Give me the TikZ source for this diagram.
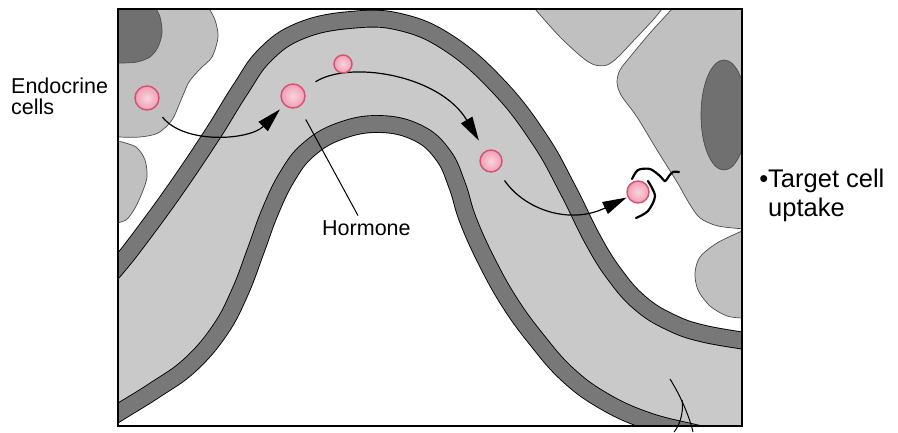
\documentclass[tikz,border=0pt]{standalone}
\usepackage{fontspec}
\setmainfont{Liberation Sans}
\usepackage{tikz}
\usetikzlibrary{arrows.meta}

\definecolor{lumengray}{RGB}{201,201,201}
\definecolor{cellgray}{RGB}{192,192,192}
\definecolor{wallgray}{RGB}{120,120,120}
\definecolor{nucgray}{RGB}{112,112,112}
\definecolor{hormlight}{RGB}{250,212,222}
\definecolor{hormfill}{RGB}{240,158,180}
\definecolor{hormrim}{RGB}{214,80,112}

\begin{document}
\begin{tikzpicture}[
  x=1bp, y=-1bp,
  cell/.style={fill=cellgray, draw=black!70, line width=0.7bp},
  nucleus/.style={fill=nucgray, draw=black!70, line width=0.7bp},
  wall/.style={draw=black, line width=0.9bp, double=wallgray, double distance=16bp},
  hormone/.style={circle, inner sep=0pt, draw=hormrim, line width=1.4bp,
                  inner color=hormlight, outer color=hormfill},
  route/.style={-{Triangle[length=24bp, width=13bp]}, line width=1.2bp},
  lbl/.style={font=\fontsize{21.5bp}{21bp}\selectfont, inner sep=0pt}
]
\useasboundingbox (0,0) rectangle (898,432);
\fill[white] (0,0) rectangle (898,432);

\begin{scope}
\clip (118,9) rectangle (742,426);

% cells outside the vessel
\path[cell] (100,-10) -- (205,-10) -- plot[smooth] coordinates {(207,5) (215,20) (218,37) (212,57)
  (200,69) (189,82) (181,100) (172,120) (158,133) (140,137) (118,137)} -- (100,138) -- cycle;
\path[nucleus] (100,-10) -- (150,-10) -- plot[smooth] coordinates {(153,3) (160,17) (162,33)
  (158,47) (150,57) (137,62) (123,63) (110,63)} -- (100,63) -- cycle;
\path[cell] (100,141) -- plot[smooth] coordinates {(118,141) (136,147) (145,160) (147,177)
  (142,193) (135,208) (126,220) (112,224)} -- (100,224) -- cycle;
\path[cell] (530,-10) -- plot[smooth] coordinates {(535,9) (560,37) (583,58) (595,65) (607,65)
  (618,57) (637,37) (653,20) (662,9)} -- (665,-10) -- cycle;
\path[cell] (675,-10) -- plot[smooth] coordinates {(672,9) (650,33) (630,57) (620,70) (617,82)
  (621,95) (637,117) (657,150) (677,182) (689,203) (700,218) (718,226) (745,229)}
  -- (760,229) -- (760,-10) -- cycle;
\path[nucleus] (724,115) ellipse [x radius=23bp, y radius=55bp];
\path[cell] (760,232) -- plot[smooth] coordinates {(742,231) (717,243) (700,257) (695,273)
  (698,290) (710,306) (727,316) (742,318)} -- (760,318) -- cycle;

% lumen between the two walls
\fill[lumengray] plot[smooth, tension=.7] coordinates {(95,292) (118,266) (140,238) (175,190)
  (212,135) (240,90) (265,55) (300,31) (350,20) (400,22) (450,44) (500,88) (540,140) (568,190)
  (593,240) (615,275) (640,303) (670,322) (705,334) (760,343)}
  -- (780,343) -- (780,460)
  -- plot[smooth, tension=.7] coordinates {(760,447) (695,433) (645,420) (602,400) (567,374)
  (537,340) (510,303) (487,262) (468,220) (457,185) (443,155) (418,133) (380,124) (340,131)
  (308,150) (287,177) (270,212) (256,250) (240,292) (220,330) (190,365) (155,390) (118,413)
  (95,428)} -- (80,428) -- (80,292) -- cycle;

% vessel walls
\draw[wall] plot[smooth, tension=.7] coordinates {(95,292) (118,266) (140,238) (175,190)
  (212,135) (240,90) (265,55) (300,31) (350,20) (400,22) (450,44) (500,88) (540,140) (568,190)
  (593,240) (615,275) (640,303) (670,322) (705,334) (760,343)};
\draw[wall] plot[smooth, tension=.7] coordinates {(95,428) (118,413) (155,390) (190,365)
  (220,330) (240,292) (256,250) (270,212) (287,177) (308,150) (340,131) (380,124) (418,133)
  (443,155) (457,185) (468,220) (487,262) (510,303) (537,340) (567,374) (602,400) (645,420)
  (695,433) (760,447)};
\end{scope}

% hormone particles
\node[hormone, minimum size=24bp] (p1) at (147,98) {};
\node[hormone, minimum size=24bp] (p2) at (293,96) {};
\node[hormone, minimum size=22bp] (p4) at (491,161) {};
\node[hormone, minimum size=22bp] (p5) at (638,192) {};

\draw[route, shorten <=12bp, shorten >=6bp] (p1) .. controls (185,145) and (250,140) .. (p2);
\draw[route, shorten <=14bp, shorten >=12bp] (p2) .. controls (350,60) and (440,75) .. (p4);
\draw[route, shorten <=12bp, shorten >=1bp] (p4) .. controls (525,210) and (570,225) .. (p5);

\node[hormone, minimum size=18bp] (p3) at (343,64) {};

% receptor hook at the target cell
\draw[line width=2.2bp, line cap=round] plot[smooth] coordinates {(648,181) (655,196) (648,211) (636,218)};
\draw[line width=2.2bp, line cap=round] plot[smooth] coordinates {(632,179) (638,170) (650,169)
  (660,176) (665,181) (669,176) (673,172) (679,172)};

\draw[line width=1.3bp] (118,9) rectangle (742,426);

% leaders running off the bottom edge
\coordinate (lead1) at (670,379);
\coordinate (lead1end) at (693,432);
\coordinate (lead2) at (682,400);
\coordinate (lead2end) at (674,432);
\draw[line width=1bp] (lead1) .. controls (680,395) and (689,415) .. (lead1end);
\draw[line width=1bp] (lead2) .. controls (684,414) and (679,426) .. (lead2end);

% labels
\node[lbl, anchor=north west, align=left] (endo) at (11,78) {Endocrine\\cells};
\node[lbl, anchor=base west] (hormtext) at (322,235) {Hormone};
\draw[line width=1bp, shorten <=14bp, shorten >=5bp] (p2) -- ([xshift=-6bp]hormtext.north);
\node[lbl, font=\fontsize{25.5bp}{29bp}\selectfont, anchor=north west, align=left]
  (target) at (768,169) {\llap{\textbullet}Target cell\\uptake};
\end{tikzpicture}
\end{document}
